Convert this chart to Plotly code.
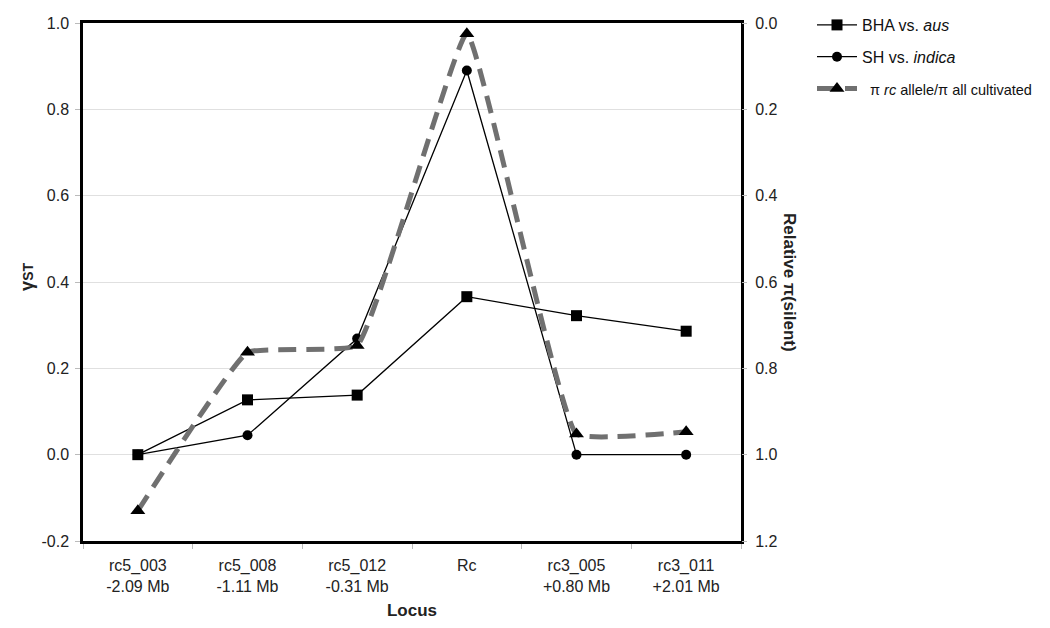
import plotly.graph_objects as go

loci = ["rc5_003<br>-2.09 Mb", "rc5_008<br>-1.11 Mb", "rc5_012<br>-0.31 Mb",
        "Rc<br> ", "rc3_005<br>+0.80 Mb", "rc3_011<br>+2.01 Mb"]
bha_aus = [0.0, 0.127, 0.138, 0.366, 0.322, 0.286]
sh_indica = [0.0, 0.045, 0.269, 0.890, 0.0, 0.0]
pi_relative = [1.13, 0.763, 0.747, 0.025, 0.952, 0.947]

left_ticks = [-0.2, 0.0, 0.2, 0.4, 0.6, 0.8, 1.0]
left_tick_labels = ["-0.2", "0.0", "0.2", "0.4", "0.6", "0.8", "1.0"]
right_ticks = [0.0, 0.2, 0.4, 0.6, 0.8, 1.0, 1.2]
right_tick_labels = ["0.0", "0.2", "0.4", "0.6", "0.8", "1.0", "1.2"]

FONT = "Liberation Sans, Arial, sans-serif"
W, H = 1034, 612  # page body has an 8px margin

fig = go.Figure()
fig.add_trace(go.Scatter(
    x=loci, y=bha_aus, name="BHA vs. <i>aus</i>", mode="lines+markers",
    legendgroup="a",
    line=dict(color="black", width=1.3),
    marker=dict(symbol="square", size=11, color="black")))
fig.add_trace(go.Scatter(
    x=loci, y=sh_indica, name="SH vs. <i>indica</i>", mode="lines+markers",
    legendgroup="b",
    line=dict(color="black", width=1.3),
    marker=dict(symbol="circle", size=10, color="black")))
fig.add_trace(go.Scatter(
    x=loci, y=pi_relative,
    name="<span style='font-size:14.5px'>  π <i>rc</i> allele/π all cultivated</span>",
    mode="lines+markers", yaxis="y2", legendgroup="c",
    line=dict(color="#707070", width=5, dash="18px,10px", shape="spline", smoothing=0.3),
    marker=dict(symbol="triangle-up", size=13, color="black")))

fig.update_layout(
    width=W, height=H,
    paper_bgcolor="white", plot_bgcolor="white",
    margin=dict(l=75, r=301, t=15, b=79),
    font=dict(family=FONT, size=16, color="#222222"),
    showlegend=True,
    legend=dict(xref="container", yref="container", x=804 / W, y=1.0,
                xanchor="left", yanchor="top",
                font=dict(size=16, color="#111111"), tracegroupgap=8,
                itemwidth=40, bgcolor="rgba(0,0,0,0)"),
    xaxis=dict(type="category", range=[-0.5, 5.5], showline=True, mirror=True,
               linecolor="black", linewidth=2.5, ticks="outside", tickson="boundaries",
               tickcolor="#bbbbbb", ticklen=5, showgrid=False, automargin=False,
               ticklabelstandoff=8,
               tickfont=dict(size=16, color="#222222"),
               title=dict(text="<b>Locus</b>", font=dict(size=17, color="#222222"), standoff=12)),
    yaxis=dict(range=[-0.2, 1.0], tickvals=left_ticks, ticktext=left_tick_labels,
               showline=True, mirror=True, linecolor="black", linewidth=2.5,
               ticks="outside", tickcolor="#bbbbbb", ticklen=5, automargin=False,
               ticklabelstandoff=3,
               showgrid=True, gridcolor="#e0e0e0", gridwidth=1, zeroline=False,
               tickfont=dict(size=16, color="#222222")),
    yaxis2=dict(range=[1.2, 0.0], tickvals=right_ticks, ticktext=right_tick_labels,
                overlaying="y", side="right", showgrid=False, zeroline=False,
                ticks="outside", tickcolor="#bbbbbb", ticklen=5, showline=False,
                ticklabelstandoff=5,
                automargin=False, tickfont=dict(size=16, color="#222222")),
    annotations=[
        dict(text="<b>γ<span style='font-size:14px'>ST</span></b>", xref="paper", yref="paper",
             x=-0.085, y=0.51, textangle=-90, showarrow=False,
             font=dict(size=18, color="#222222"), xanchor="center", yanchor="middle"),
        dict(text="<b>Relative π(silent)</b>", xref="paper", yref="paper",
             x=1.0745, y=0.5, textangle=90, showarrow=False,
             font=dict(size=17, color="#222222"), xanchor="center", yanchor="middle")],
)

fig.write_html("out.html")
